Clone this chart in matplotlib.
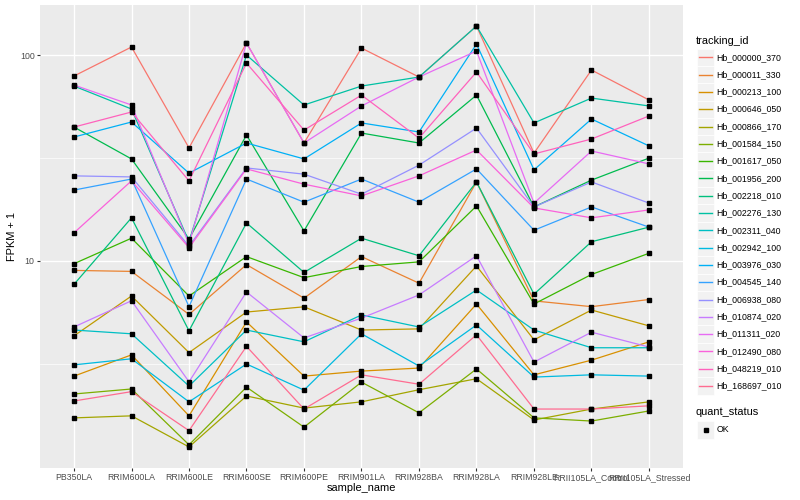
import matplotlib
matplotlib.use("Agg")
import matplotlib.pyplot as plt
import numpy as np
from matplotlib.patches import Rectangle
from matplotlib.lines import Line2D
from matplotlib.ticker import FixedLocator, NullFormatter

plt.rcParams['font.family'] = ['Liberation Sans', 'DejaVu Sans']

samples = ["PB350LA", "RRIM600LA", "RRIM600LE", "RRIM600SE", "RRIM600PE",
           "RRIM901LA", "RRIM928BA", "RRIM928LA", "RRIM928LE",
           "RRII105LA_Control", "RRII105LA_Stressed"]

# FPKM + 1 per gene, in sample order
hb_000000_370 = [79.1, 109.4, 35.4, 114.4, 37.4, 108.1, 78.2, 138.3, 33.4, 84.6, 60.5]
hb_000011_330 = [9.0, 8.9, 5.5, 9.6, 6.6, 10.5, 7.8, 24.2, 6.4, 6.0, 6.5]
hb_000213_100 = [2.76, 3.50, 1.77, 5.06, 2.76, 2.92, 3.02, 6.18, 2.80, 3.30, 4.05]
hb_000646_050 = [4.33, 6.76, 3.59, 5.65, 5.99, 4.62, 4.68, 9.46, 4.14, 5.78, 4.84]
hb_000866_170 = [1.73, 1.77, 1.25, 2.21, 1.93, 2.07, 2.37, 2.68, 1.69, 1.91, 2.07]
hb_001584_150 = [2.26, 2.39, 1.28, 2.44, 1.56, 2.58, 1.83, 2.99, 1.73, 1.67, 1.87]
hb_001617_050 = [9.7, 12.9, 6.76, 10.5, 8.3, 9.4, 9.9, 18.5, 6.18, 8.6, 10.9]
hb_001956_200 = [44.7, 31.3, 12.8, 40.9, 14.0, 41.8, 37.4, 63.9, 18.3, 24.7, 31.6]
hb_002218_010 = [7.7, 16.2, 4.58, 15.3, 8.8, 12.9, 10.6, 24.2, 6.9, 12.4, 14.6]
hb_002276_130 = [70.7, 54.7, 12.4, 100.0, 57.2, 70.7, 78.2, 138.3, 46.8, 61.8, 56.6]
hb_002311_040 = [4.62, 4.43, 2.47, 4.62, 4.05, 5.47, 4.78, 7.23, 4.62, 3.79, 3.79]
hb_002942_100 = [3.13, 3.35, 2.07, 3.16, 2.36, 4.43, 3.09, 4.89, 2.73, 2.80, 2.76]
hb_003976_030 = [40.0, 47.3, 26.7, 37.4, 31.3, 46.8, 42.3, 113.1, 27.7, 48.9, 36.2]
hb_004545_140 = [22.1, 25.0, 6.0, 25.0, 19.3, 25.0, 19.3, 28.0, 14.1, 18.3, 14.6]
hb_006938_080 = [25.9, 25.6, 11.8, 28.3, 26.4, 21.1, 29.2, 44.2, 18.3, 24.2, 19.1]
hb_010874_020 = [4.78, 6.41, 2.59, 7.07, 4.23, 5.28, 6.84, 10.6, 3.23, 4.51, 3.82]
hb_011311_020 = [71.5, 57.2, 12.1, 114.4, 37.4, 56.6, 78.2, 104.6, 19.1, 34.2, 29.6]
hb_012490_080 = [13.7, 24.5, 11.6, 28.0, 23.6, 20.7, 25.9, 34.6, 18.1, 16.2, 17.7]
hb_048219_010 = [44.7, 52.9, 24.5, 91.4, 43.2, 63.9, 39.5, 82.7, 33.1, 39.1, 50.6]
hb_168697_010 = [2.09, 2.32, 1.50, 3.85, 1.91, 2.80, 2.52, 4.38, 1.91, 1.91, 1.98]

tracking_ids = ["Hb_000000_370", "Hb_000011_330", "Hb_000213_100", "Hb_000646_050",
                "Hb_000866_170", "Hb_001584_150", "Hb_001617_050", "Hb_001956_200",
                "Hb_002218_010", "Hb_002276_130", "Hb_002311_040", "Hb_002942_100",
                "Hb_003976_030", "Hb_004545_140", "Hb_006938_080", "Hb_010874_020",
                "Hb_011311_020", "Hb_012490_080", "Hb_048219_010", "Hb_168697_010"]
series = [hb_000000_370, hb_000011_330, hb_000213_100, hb_000646_050,
          hb_000866_170, hb_001584_150, hb_001617_050, hb_001956_200,
          hb_002218_010, hb_002276_130, hb_002311_040, hb_002942_100,
          hb_003976_030, hb_004545_140, hb_006938_080, hb_010874_020,
          hb_011311_020, hb_012490_080, hb_048219_010, hb_168697_010]

# ggplot hue palette, 20 levels
colors = ["#F8766D", "#EA8331", "#D89000", "#C09B00", "#A3A500", "#7CAE00",
          "#39B600", "#00BB4E", "#00BF7D", "#00C1A3", "#00BFC4", "#00BAE0",
          "#00B0F6", "#35A2FF", "#9590FF", "#C77CFF", "#E76BF3", "#FA62DB",
          "#FF62BC", "#FF6C91"]

W, H = 800, 500
fig = plt.figure(figsize=(W / 100, H / 100), dpi=100)

def fx(px):
    return px / W

def fy(py):
    return 1 - py / H

ax = fig.add_axes([fx(39.5), fy(468), fx(683.5) - fx(39.5), fy(5) - fy(468)])
ax.set_facecolor("#EBEBEB")
for s in ax.spines.values():
    s.set_visible(False)

x = np.arange(len(samples))
for i, (vals, col) in enumerate(zip(series, colors)):
    ax.plot(x, vals, color=col, lw=0.9, zorder=2 + i * 0.01, solid_capstyle="butt")
for vals in series:
    ax.plot(x, vals, ls="none", marker="s", ms=2.2, mfc="black", mec="black", zorder=5)

ax.set_yscale("log")
allv = np.concatenate([np.array(v) for v in series])
lo, hi = np.log10(allv.min()), np.log10(allv.max())
pad = 0.05 * (hi - lo)
ax.set_ylim(10 ** (lo - pad), 10 ** (hi + pad))
ax.set_xlim(-0.6, len(samples) - 0.4)

ax.yaxis.set_major_locator(FixedLocator([10, 100]))
ax.set_yticklabels(["10", "100"])
ax.yaxis.set_minor_locator(FixedLocator([10 ** 0.5, 10 ** 1.5]))
ax.yaxis.set_minor_formatter(NullFormatter())
ax.set_xticks(x)
ax.set_xticklabels(samples)

ax.grid(which="major", color="white", lw=1.0)
ax.grid(which="minor", axis="y", color="white", lw=0.5)
ax.set_axisbelow(True)
ax.tick_params(which="major", length=2, width=0.8, color="#333333",
               labelsize=6.3, labelcolor="#4D4D4D", pad=1.5)
ax.tick_params(which="minor", length=0)

fig.text(fx(12), fy(236.5), "FPKM + 1", rotation=90, ha="center", va="center", fontsize=7.9)
fig.text(fx(361.5), fy(488), "sample_name", ha="center", va="center", fontsize=7.9)

# legend: tracking_id
fig.text(fx(696), fy(40.7), "tracking_id", ha="left", va="center", fontsize=7.9)
step = 17.3
for i, (name, col) in enumerate(zip(tracking_ids, colors)):
    yc = 57.3 + i * step
    fig.add_artist(Rectangle((fx(697), fy(yc + step / 2)), fx(17.3), step / H,
                             facecolor="#F2F2F2", edgecolor="white", lw=0.5,
                             transform=fig.transFigure))
    fig.add_artist(Line2D([fx(699), fx(712)], [fy(yc), fy(yc)], color=col, lw=1.0,
                          transform=fig.transFigure))
    fig.text(fx(716.5), fy(yc), name, ha="left", va="center", fontsize=6.3)

# legend: quant_status
fig.text(fx(696), fy(412), "quant_status", ha="left", va="center", fontsize=7.9)
fig.add_artist(Rectangle((fx(697), fy(430 + step / 2)), fx(17.3), step / H,
                         facecolor="#F2F2F2", edgecolor="white", lw=0.5,
                         transform=fig.transFigure))
fig.add_artist(Line2D([fx(705.5)], [fy(430)], ls="none", marker="s", ms=2.2,
                      color="black", transform=fig.transFigure))
fig.text(fx(716.5), fy(430), "OK", ha="left", va="center", fontsize=6.3)

fig.savefig("out.png", dpi=100)
